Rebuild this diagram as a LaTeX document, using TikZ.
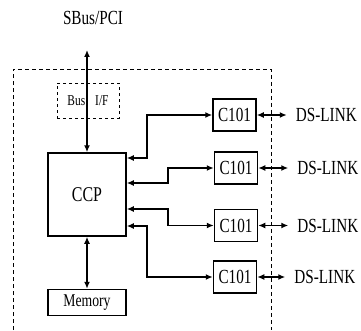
\documentclass[tikz,border=0pt]{standalone}
\usepackage{fontspec}
\setmainfont[FakeStretch=0.76]{Liberation Serif}
\usepackage{tikz}
\usetikzlibrary{
  arrows.meta,
  positioning,
  calc
}
\tikzset{
  unitbox/.style={
    draw, line width=1.5pt, inner sep=0pt, align=center
  },
  ccpbox/.style={unitbox, minimum width=78pt, minimum height=83pt, font=\fontsize{21}{23}\selectfont},
  membox/.style={unitbox, minimum width=78pt, minimum height=26pt, font=\fontsize{18}{20}\selectfont},
  linkbox/.style={unitbox, minimum width=43pt, minimum height=32pt, font=\fontsize{20}{22}\selectfont},
  ifbox/.style={draw, dashed, line width=0.9pt, inner sep=0pt, minimum width=62pt, minimum height=35pt, font=\fontsize{15}{17}\selectfont},
  zone/.style={draw, line width=0.9pt, dash pattern=on 4pt off 3pt},
  tag/.style={font=\fontsize{20}{22}\selectfont, inner sep=0pt, anchor=west},
  link/.style={{Latex[length=7pt,width=6pt]}-{Latex[length=7pt,width=6pt]}, line width=1.5pt}
}
\begin{document}
\begin{tikzpicture}
  \useasboundingbox (0,0) rectangle (361pt,330pt);
  % board outline
  \draw[zone] (13pt,0) -- (13pt,261pt) -- (271pt,261pt) -- (271pt,0);
  \node[font=\fontsize{20}{22}\selectfont] (sbus) at (93pt,312pt) {SBus/PCI};
  \coordinate (bustop) at (87pt,280pt);
  \node[ccpbox] (ccp) at (87pt,135.5pt) {CCP};
  \node[ifbox] (busif) at (88pt,229.5pt) {Bus\hspace{10pt}I/F};
  \node[membox, below=52pt of ccp] (mem) {Memory};
  \node[linkbox] (c1) at (234.5pt,215pt) {C101};
  \node[linkbox] (c2) at (236pt,162pt) {C101};
  \node[linkbox] (c3) at (236pt,104.5pt) {C101};
  \node[linkbox] (c4) at (235pt,53pt) {C101};
  \node[tag, right=39pt of c1] (ds1) {DS-LINK};
  \node[tag, right=39pt of c2] (ds2) {DS-LINK};
  \node[tag, right=39pt of c3] (ds3) {DS-LINK};
  \node[tag, right=37pt of c4] (ds4) {DS-LINK};
  \draw[link] (bustop) -- (ccp.north);
  \draw[link] (ccp.south) -- (ccp.south |- mem.north);
  \draw[link] ([yshift=36.5pt]ccp.east) -- ++(20pt,0) |- (c1.west);
  \draw[link] ([yshift=11.5pt]ccp.east) -- ++(41pt,0) |- (c2.west);
  \draw[link] ([yshift=-14.5pt]ccp.east) -- ++(41pt,0) |- (c3.west);
  \draw[link] ([yshift=-31.5pt]ccp.east) -- ++(20pt,0) |- (c4.west);
  \draw[link] (c1.east) -- ([xshift=-9pt]ds1.west);
  \draw[link] (c2.east) -- ([xshift=-9pt]ds2.west);
  \draw[link] (c3.east) -- ([xshift=-9pt]ds3.west);
  \draw[link] (c4.east) -- ([xshift=-9pt]ds4.west);
\end{tikzpicture}
\end{document}
